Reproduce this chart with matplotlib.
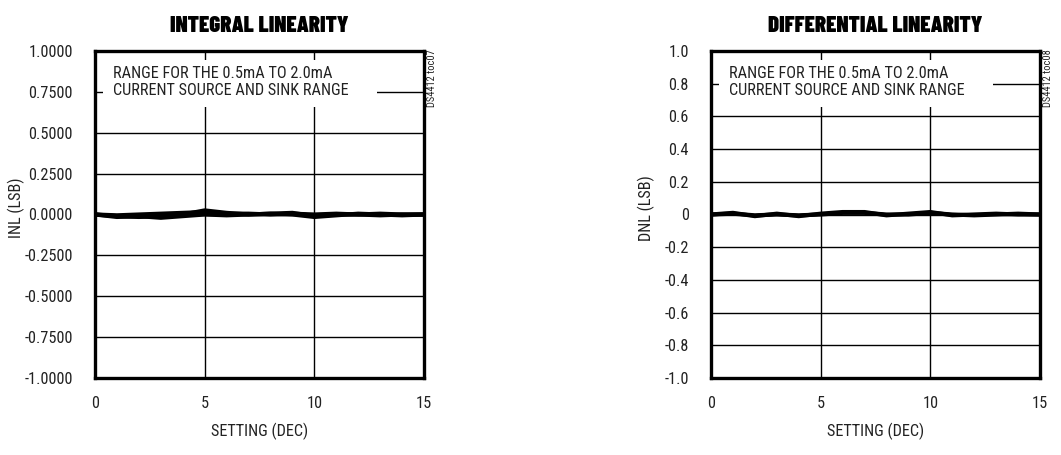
import matplotlib
matplotlib.use("Agg")
import matplotlib.pyplot as plt
from matplotlib import font_manager
from matplotlib.patches import Rectangle

names = {f.name for f in font_manager.fontManager.ttflist}

def pick(options):
    for o in options:
        if o in names:
            return o
    return 'DejaVu Sans'

body_font = pick(['Roboto Condensed', 'Liberation Sans Narrow', 'Archivo Narrow', 'PT Sans Narrow',
                  'Asap Condensed', 'Barlow Condensed'])
title_font = pick(['Barlow Condensed', 'Asap Condensed', 'Roboto Condensed', 'Archivo Narrow'])
plt.rcParams['font.family'] = [body_font, 'DejaVu Sans']

settings = list(range(16))
inl_a = [0.0, -0.010, -0.015, -0.010, 0.000, 0.025, 0.010, 0.000, 0.005, 0.010, -0.010, 0.000, 0.000, -0.005, 0.000, 0.000]
inl_b = [0.0, -0.005, 0.000, 0.005, 0.010, 0.015, 0.005, 0.005, 0.000, 0.005, 0.000, 0.005, 0.000, 0.005, 0.000, 0.000]
inl_c = [0.0, -0.015, -0.010, -0.020, -0.010, 0.000, -0.005, 0.000, 0.005, 0.000, -0.015, -0.005, 0.005, 0.000, -0.005, 0.000]
dnl_a = [0.0, 0.010, -0.010, 0.005, -0.010, 0.005, 0.015, 0.015, -0.005, 0.005, 0.015, -0.005, 0.000, 0.005, 0.000, 0.000]
dnl_b = [0.0, 0.005, -0.005, 0.000, -0.005, 0.000, 0.010, 0.010, 0.000, 0.000, 0.010, 0.000, -0.005, 0.000, 0.005, 0.000]

inl_ticks = [-1.0, -0.75, -0.5, -0.25, 0.0, 0.25, 0.5, 0.75, 1.0]
inl_ticklabels = ['-1.0000', '-0.7500', '-0.5000', '-0.2500', '0.0000', '0.2500', '0.5000', '0.7500', '1.0000']
dnl_ticks = [-1.0, -0.8, -0.6, -0.4, -0.2, 0.0, 0.2, 0.4, 0.6, 0.8, 1.0]
dnl_ticklabels = ['-1.0', '-0.8', '-0.6', '-0.4', '-0.2', '0', '0.2', '0.4', '0.6', '0.8', '1.0']
x_ticks = [0, 5, 10, 15]

W, H = 1061, 455
fig = plt.figure(figsize=(W / 100, H / 100), dpi=100)
TXT = '#222222'
FS = 11.7

def make_ax(left, title, ylabel, series, yticks, yticklabels, code, ylabel_x):
    ax = fig.add_axes([left / W, (H - 378) / H, 329 / W, 327 / H])
    for s in series:
        ax.plot(settings, s, color='black', lw=3.0, solid_capstyle='butt', zorder=3)
    ax.set_xlim(0, 15)
    ax.set_ylim(-1, 1)
    ax.set_xticks(x_ticks)
    ax.set_yticks(yticks)
    ax.set_yticklabels(yticklabels)
    ax.tick_params(length=0, labelsize=FS, colors=TXT)
    ax.tick_params(axis='y', pad=16)
    ax.tick_params(axis='x', pad=13)
    ax.grid(True, color='black', lw=1.0)
    for sp in ax.spines.values():
        sp.set_linewidth(2.4)
        sp.set_zorder(5)
    ax.set_title(title, fontsize=16.5, fontweight=900, pad=14, family=[title_font, 'DejaVu Sans'])
    ax.set_xlabel('SETTING (DEC)', fontsize=FS, color=TXT)
    ax.xaxis.set_label_coords(0.5, -0.138)
    ax.set_ylabel(ylabel, fontsize=FS, color=TXT)
    ax.yaxis.set_label_coords(ylabel_x, 0.52)
    ax.add_patch(Rectangle((0.025, 0.83), 0.832, 0.142, transform=ax.transAxes,
                           facecolor='white', edgecolor='none', zorder=2.5))
    ax.text(0.055, 0.955, 'RANGE FOR THE 0.5mA TO 2.0mA\nCURRENT SOURCE AND SINK RANGE',
            transform=ax.transAxes, ha='left', va='top', fontsize=FS, linespacing=1.15,
            color=TXT, zorder=4)
    ax.text(1.025, 0.829, code, transform=ax.transAxes, rotation=90, ha='center', va='bottom',
            fontsize=7.5, color=TXT, clip_on=False)
    return ax

make_ax(95, 'INTEGRAL LINEARITY', 'INL (LSB)', [inl_a, inl_b, inl_c], inl_ticks, inl_ticklabels, 'DS4412 toc07', -0.213)
make_ax(711, 'DIFFERENTIAL LINEARITY', 'DNL (LSB)', [dnl_a, dnl_b], dnl_ticks, dnl_ticklabels, 'DS4412 toc08', -0.170)

fig.savefig('out.png', dpi=100)
